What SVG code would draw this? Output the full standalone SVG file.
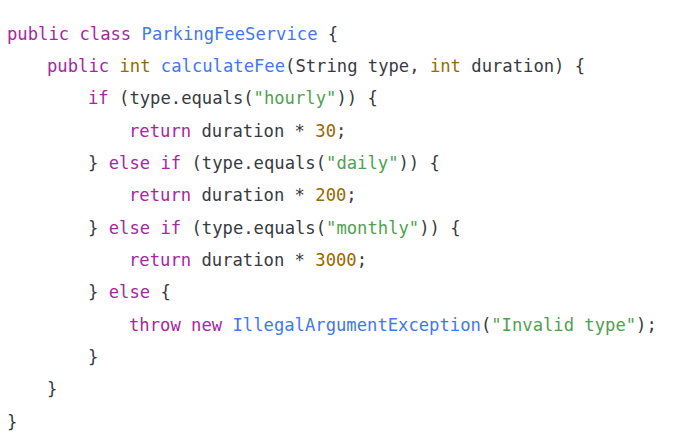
<svg xmlns="http://www.w3.org/2000/svg" width="682" height="444" viewBox="0 0 682 444" xml:space="preserve">
<style>
text{font-family:"DejaVu Sans Mono","Liberation Mono",monospace;font-size:17.2px;fill:#383a42}
.k{fill:#a626a4}.b{fill:#4078f2}.s{fill:#50a14f}.n{fill:#986801}
</style>
<rect width="682" height="444" fill="#ffffff"/>
<g id="code">
<text x="7" y="40"><tspan class="k">public</tspan> <tspan class="k">class</tspan> <tspan class="b">ParkingFeeService</tspan> {</text>
<text x="47" y="72"><tspan class="k">public</tspan> <tspan class="n">int</tspan> <tspan class="b">calculateFee</tspan>(String type, <tspan class="n">int</tspan> duration) {</text>
<text x="88" y="104"><tspan class="k">if</tspan> (type.equals(<tspan class="s">"hourly"</tspan>)) {</text>
<text x="129" y="137"><tspan class="k">return</tspan> duration * <tspan class="n">30</tspan>;</text>
<text x="88" y="169">} <tspan class="k">else</tspan> <tspan class="k">if</tspan> (type.equals(<tspan class="s">"daily"</tspan>)) {</text>
<text x="129" y="201"><tspan class="k">return</tspan> duration * <tspan class="n">200</tspan>;</text>
<text x="88" y="234">} <tspan class="k">else</tspan> <tspan class="k">if</tspan> (type.equals(<tspan class="s">"monthly"</tspan>)) {</text>
<text x="129" y="266"><tspan class="k">return</tspan> duration * <tspan class="n">3000</tspan>;</text>
<text x="88" y="298">} <tspan class="k">else</tspan> {</text>
<text x="129" y="331"><tspan class="k">throw</tspan> <tspan class="k">new</tspan> <tspan class="b">IllegalArgumentException</tspan>(<tspan class="s">"Invalid type"</tspan>);</text>
<text x="88" y="363">}</text>
<text x="47" y="395">}</text>
<text x="7" y="428">}</text>
</g>
</svg>
